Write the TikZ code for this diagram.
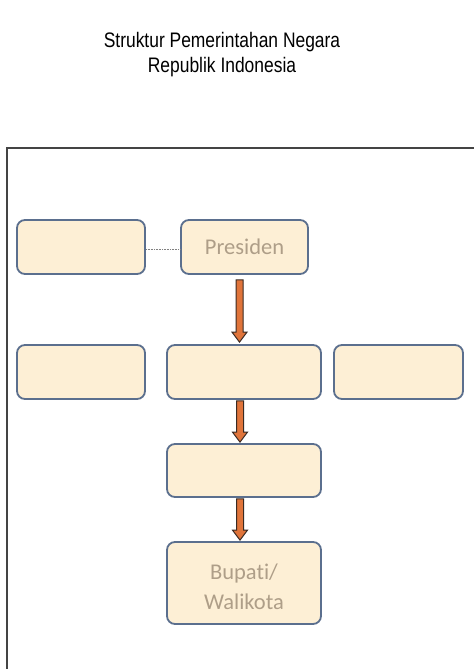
\documentclass[tikz,border=0pt]{standalone}
\usepackage{fontspec}
\setmainfont[Ligatures={NoCommon}]{Carlito}
\newfontfamily\titlefont[FakeStretch=0.83]{Liberation Sans}
\usetikzlibrary{calc}
\definecolor{boxfill}{HTML}{FDEFD5}
\definecolor{boxline}{HTML}{5B6F8E}
\definecolor{boxtext}{HTML}{AE9E88}
\definecolor{arrfill}{HTML}{E0743A}
\definecolor{arrline}{HTML}{3A2A22}
\definecolor{frameline}{HTML}{444444}
\tikzset{
  orgbox/.style={draw=boxline, line width=1.8pt, fill=boxfill, rounded corners=8pt,
    text=boxtext, font=\fontsize{22.5}{30}\selectfont, align=center, inner sep=0pt},
  barrow/.style={draw=arrline, line width=1pt, fill=arrfill, line join=miter},
  titletext/.style={font=\titlefont\fontsize{21}{25}\selectfont, align=center, text=black}
}
\newcommand\blkarrow[2]{%
  \path[barrow] let \p1=(#1), \p2=(#2) in
    (\x1-3.5pt,\y1) -- (\x1+3.5pt,\y1) -- (\x1+3.5pt,\y2+10pt) -- (\x1+7.5pt,\y2+10pt)
    -- (\x1,\y2) -- (\x1-7.5pt,\y2+10pt) -- (\x1-3.5pt,\y2+10pt) -- cycle;}
\begin{document}
\begin{tikzpicture}[x=1pt,y=-1pt]
\useasboundingbox (0,0) rectangle (474,669);
\fill[white] (0,0) rectangle (474,669);
% frame
\draw[frameline, line width=1.5pt] (7,669) -- (7,148) -- (474,148);
% title
\node[titletext] (title) at (222,55) {Struktur Pemerintahan Negara\\Republik Indonesia};
% boxes
\node[orgbox, minimum width=128pt, minimum height=54pt] (a) at (81,247) {};
\node[orgbox, minimum width=127pt, minimum height=54pt] (pres) at (244.5,247) {Presiden};
\node[orgbox, minimum width=128pt, minimum height=54pt] (l2) at (81,372) {};
\node[orgbox, minimum width=154pt, minimum height=54pt] (m2) at (244,372) {};
\node[orgbox, minimum width=129pt, minimum height=54pt] (r2) at (398.5,372) {};
\node[orgbox, minimum width=154pt, minimum height=53pt] (m3) at (244,470.5) {};
\node[orgbox, minimum width=154pt, minimum height=82pt] (bup) at (244,583) {};
\node[text=boxtext, font=\fontsize{22.5}{30}\selectfont, align=center, inner sep=0pt] (buptext) at ($(bup.center)+(0,4)$) {Bupati/\\Walikota};
% dotted connector
\draw[gray, line width=0.6pt, densely dotted] ($(a.east)+(0,2)$) -- ($(pres.west)+(0,2)$);
% arrows
\coordinate (a1s) at ($(pres.south)+(-5,5)$);
\coordinate (a1e) at ($(m2.north)+(-5,-2)$);
\coordinate (a2s) at ($(m2.south)+(-4,1)$);
\coordinate (a2e) at ($(m3.north)+(-4,-1)$);
\coordinate (a3s) at ($(m3.south)+(-4,1)$);
\coordinate (a3e) at ($(bup.north)+(-4,-1)$);
\blkarrow{a1s}{a1e}
\blkarrow{a2s}{a2e}
\blkarrow{a3s}{a3e}
\end{tikzpicture}
\end{document}
